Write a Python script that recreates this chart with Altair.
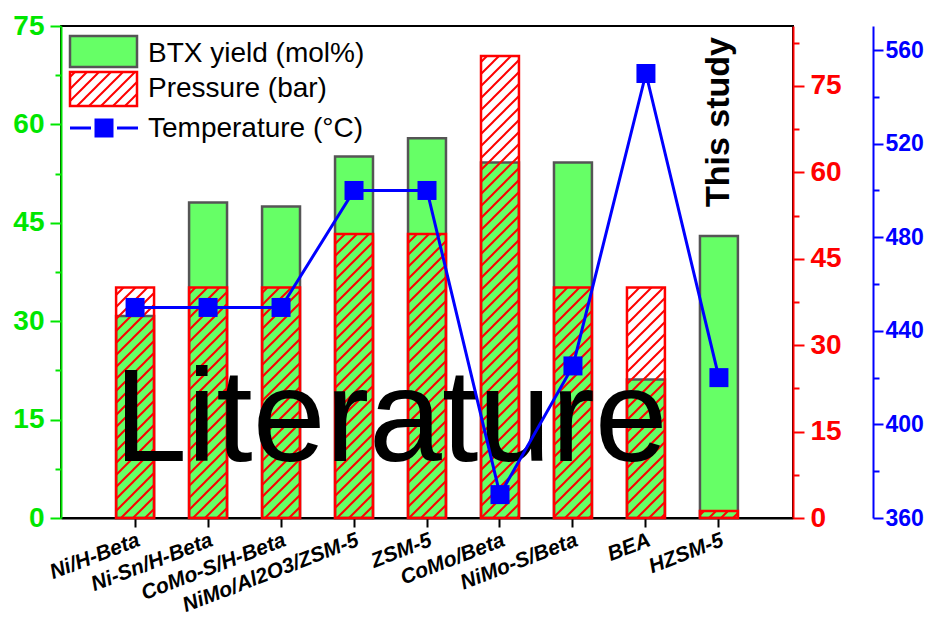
import altair as alt
import pandas as pd
import jinja2

# ---------------- data ----------------
categories = ["Ni/H-Beta", "Ni-Sn/H-Beta", "CoMo-S/H-Beta", "NiMo/Al2O3/ZSM-5",
              "ZSM-5", "CoMo/Beta", "NiMo-S/Beta", "BEA", "HZSM-5"]
btx_yield = [30.8, 48.1, 47.5, 55.1, 57.9, 54.2, 54.2, 21.1, 43.0]      # mol%
pressure = [40, 40, 40, 49.3, 49.3, 80.2, 40, 40, 1.2]                # bar
temperature = [450, 450, 450, 500, 500, 370, 425, 550, 420]           # degC

legend_labels = ["BTX yield (mol%)", "Pressure (bar)", "Temperature (°C)"]
annotation_main = "Literature"
annotation_study = "This study"

btx_ticks = [0, 7.5, 15, 22.5, 30, 37.5, 45, 52.5, 60, 67.5, 75]
pressure_ticks = [0, 7.5, 15, 22.5, 30, 37.5, 45, 52.5, 60, 67.5, 75, 82.5]
temp_ticks = [360, 380, 400, 420, 440, 460, 480, 500, 520, 540, 560]

df = pd.DataFrame({"catalyst": categories, "btx": btx_yield,
                   "pressure": pressure, "temperature": temperature})
one = pd.DataFrame({"k": [0]})

FONT = "Liberation Sans"
GREEN_AX = "#00e600"
RED = "#ff0000"
BLUE = "#0000ff"

x_enc = alt.X("catalyst:N", sort=categories,
              scale=alt.Scale(paddingInner=0.48, paddingOuter=0.755),
              axis=alt.Axis(title=None, labelAngle=-21, labelAlign="right",
                            labelBaseline="top", labelFont=FONT, labelFontSize=21,
                            labelFontWeight="bold", labelFontStyle="italic",
                            labelColor="black", domainColor="black", domainWidth=2,
                            tickColor="black", tickWidth=2, tickSize=9,
                            labelPadding=2, labelOverlap=False, labelLimit=500))


def yaxis(color, values, major_test, orient, offset=0, size=28, pad=6, major=11):
    return alt.Axis(title=None, orient=orient, offset=offset, values=values,
                    grid=False, labelFont=FONT, labelFontSize=size,
                    labelFontWeight="bold", labelColor=color,
                    labelExpr=f"({major_test}) ? datum.label : ''",
                    domainColor=color, domainWidth=2, tickColor=color,
                    tickWidth=2,
                    tickSize={"condition": {"test": f"!({major_test})", "value": 6},
                              "value": major},
                    labelPadding=pad, labelOverlap=False)


green = alt.Chart(df).mark_bar(fill="#66ff66", stroke="#555555", strokeWidth=2.5).encode(
    x=x_enc,
    y=alt.Y("btx:Q", scale=alt.Scale(domain=[0, 75], nice=False),
            axis=yaxis(GREEN_AX, btx_ticks, "datum.value % 15 == 0", "left")),
)

red = alt.Chart(df).mark_bar(fill="url(#hatch)", stroke=RED, strokeWidth=2.5).encode(
    x=x_enc,
    y=alt.Y("pressure:Q", scale=alt.Scale(domain=[0, 85.4], nice=False),
            axis=yaxis(RED, pressure_ticks, "datum.value % 15 == 0", "right")),
)

literature = alt.Chart(one).mark_text(
    text=annotation_main, font=FONT, fontSize=131, color="black",
    align="center", baseline="alphabetic").encode(
    x=alt.value(330), y=alt.value(435))

study = alt.Chart(one).mark_text(
    text=annotation_study, font=FONT, fontSize=34, fontWeight="bold", color="black",
    align="center", baseline="middle", angle=270).encode(
    x=alt.X(datum="HZSM-5"), y=alt.value(96))

temp = alt.Chart(df).mark_line(
    color=BLUE, strokeWidth=3,
    point=alt.OverlayMarkDef(shape="square", size=361, filled=True, color=BLUE, opacity=1)
).encode(
    x=x_enc,
    y=alt.Y("temperature:Q", scale=alt.Scale(domain=[360, 570.3], nice=False, zero=False),
            axis=yaxis(BLUE, temp_ticks, "(datum.value - 360) % 40 == 0", "right", 80,
                       size=23, pad=2, major=10)),
)

# ---- legend (drawn inside the plot, top-left) ----
leg_green = alt.Chart(one).mark_rect(fill="#66ff66", stroke="#555555", strokeWidth=2.5).encode(
    x=alt.value(9), x2=alt.value(76), y=alt.value(10), y2=alt.value(41))
leg_red = alt.Chart(one).mark_rect(fill="url(#hatch)", stroke=RED, strokeWidth=2.5).encode(
    x=alt.value(9), x2=alt.value(76), y=alt.value(46), y2=alt.value(80))
leg_line1 = alt.Chart(one).mark_rule(color=BLUE, strokeWidth=3).encode(
    x=alt.value(9), x2=alt.value(30), y=alt.value(102))
leg_line2 = alt.Chart(one).mark_rule(color=BLUE, strokeWidth=3).encode(
    x=alt.value(56), x2=alt.value(77), y=alt.value(102))
leg_sq = alt.Chart(one).mark_point(shape="square", size=361, filled=True, color=BLUE, opacity=1).encode(
    x=alt.value(43), y=alt.value(102))
leg_df = pd.DataFrame({"label": legend_labels, "ypos": [36, 71, 111]})
leg_text = alt.Chart(leg_df).mark_text(
    font=FONT, fontSize=28, color="black", align="left", baseline="alphabetic").encode(
    x=alt.value(87), y=alt.Y("ypos:Q", scale=None), text="label:N")

chart = alt.layer(
    green, red, literature, temp, study,
    leg_green, leg_red, leg_line1, leg_line2, leg_sq, leg_text,
).resolve_scale(y="independent").properties(
    width=732, height=492,
    autosize=alt.AutoSizeParams(type="none"),
    padding={"left": 53, "top": 18, "right": 132, "bottom": 104},
).configure_view(stroke="black", strokeWidth=2)

TEMPLATE = jinja2.Template("""<!DOCTYPE html>
<html>
<head>
  <meta charset="utf-8">
  <style>
    html { overflow: hidden; }
    #{{ output_div }}.vega-embed { width: 100%; display: flex; }
    #{{ output_div }} svg { overflow: visible; flex: none; }
    #{{ output_div }}.vega-embed details,
    #{{ output_div }}.vega-embed details summary { position: relative; }
  </style>
  <script type="text/javascript" src="{{ base_url }}/vega@{{ vega_version }}"></script>
  <script type="text/javascript" src="{{ base_url }}/vega-lite@{{ vegalite_version }}"></script>
  <script type="text/javascript" src="{{ base_url }}/vega-embed@{{ vegaembed_version }}"></script>
</head>
<body>
  <svg width="0" height="0" style="position:absolute">
    <defs>
      <pattern id="hatch" patternUnits="userSpaceOnUse" width="12" height="12">
        <path d="M-3,3 L3,-3 M0,12 L12,0 M9,15 L15,9" stroke="#ff0000" stroke-width="2" fill="none"/>
      </pattern>
    </defs>
  </svg>
  <div id="{{ output_div }}"></div>
  <script>
    (function(vegaEmbed) {
      var spec = {{ spec }};
      var embedOpt = {{ embed_options }};
      function showError(el, error){
        el.innerHTML = ('<div style="color:red;"><p>JavaScript Error: ' + error.message + '</p></div>');
        throw error;
      }
      const el = document.getElementById('{{ output_div }}');
      vegaEmbed("#{{ output_div }}", spec, embedOpt).catch(error => showError(el, error));
    })(vegaEmbed);
  </script>
</body>
</html>
""")

chart.save("out.html", embed_options={"renderer": "svg", "actions": False}, template=TEMPLATE)
